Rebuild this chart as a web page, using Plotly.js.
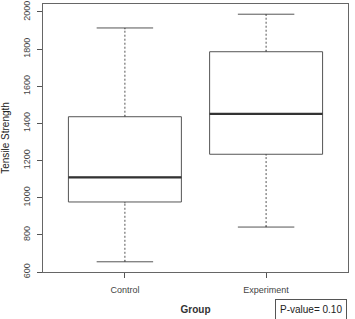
<!DOCTYPE html>
<html>
<head>
<meta charset="utf-8">
<script src="https://cdn.plot.ly/plotly-3.0.1.min.js"></script>
<style>html,body{margin:0;padding:0;background:#fff;}#chart{width:355px;height:319px;}</style>
</head>
<body>
<div id="chart"></div>
<script>
// Data
var groups = ['Control', 'Experiment'];
var positions = [1, 2];
var lowerWhisker = [655, 842];
var q1 = [977, 1234];
var median = [1110, 1451];
var q3 = [1436, 1786];
var upperWhisker = [1914, 1988];
var yTicks = [600, 800, 1000, 1200, 1400, 1600, 1800, 2000];
var pValueText = 'P-value= 0.10';

var lineCol = '#555555';
var halfW = 0.4;
var yRange = [600, 2043];
var eps = (yRange[1] - yRange[0]) * 0.005;

var traces = [];
groups.forEach(function (g, i) {
  traces.push({
    type: 'box',
    name: g,
    x: [positions[i]],
    q1: [q1[i]], median: [median[i]], q3: [q3[i]],
    lowerfence: [lowerWhisker[i]], upperfence: [upperWhisker[i]],
    width: 2 * halfW,
    whiskerwidth: 0.5,
    line: {color: lineCol, width: 1},
    fillcolor: 'rgba(255,255,255,0)',
    boxpoints: false,
    hoverinfo: 'skip',
    showlegend: false
  });
});
groups.forEach(function (g, i) {
  var c = positions[i];
  [[q3[i] + eps, upperWhisker[i] - eps], [lowerWhisker[i] + eps, q1[i] - eps]].forEach(function (seg) {
    traces.push({type: 'scatter', mode: 'lines', x: [c, c], y: seg,
      line: {color: '#ffffff', width: 3}, hoverinfo: 'skip', showlegend: false});
  });
  [[q3[i], upperWhisker[i]], [lowerWhisker[i], q1[i]]].forEach(function (seg) {
    traces.push({type: 'scatter', mode: 'lines', x: [c, c], y: seg,
      line: {color: lineCol, width: 1, dash: '2px,2px'}, hoverinfo: 'skip', showlegend: false});
  });
  traces.push({type: 'scatter', mode: 'lines', x: [c - halfW, c + halfW], y: [median[i], median[i]],
    line: {color: '#333333', width: 2.2}, hoverinfo: 'skip', showlegend: false});
});

var tickFont = {family: 'Liberation Sans, Arial, sans-serif', size: 9, color: '#444'};

var layout = {
  width: 355, height: 319,
  margin: {l: 43, r: 7, t: 4, b: 47, pad: 0},
  paper_bgcolor: '#fff', plot_bgcolor: '#fff',
  showlegend: false,
  xaxis: {
    range: [0.42, 2.58],
    tickmode: 'array', tickvals: positions, ticktext: groups,
    ticks: 'outside', ticklen: 5, tickcolor: lineCol, tickwidth: 1,
    showline: true, mirror: true, linecolor: '#666', linewidth: 1,
    showgrid: false, zeroline: false,
    tickfont: tickFont,
    ticklabelstandoff: 4,
    title: {text: '<b>Group</b>', font: {family: 'Liberation Sans, Arial, sans-serif', size: 10, color: '#333'}, standoff: 12}
  },
  yaxis: {
    range: yRange,
    tickmode: 'array', tickvals: yTicks, ticktext: yTicks.map(String),
    tickangle: -90,
    ticks: 'outside', ticklen: 5, tickcolor: lineCol, tickwidth: 1,
    showline: true, mirror: true, linecolor: '#666', linewidth: 1,
    showgrid: false, zeroline: false,
    tickfont: tickFont,
    ticklabelstandoff: 3,
    title: {text: 'Tensile Strength', font: {family: 'Liberation Sans, Arial, sans-serif', size: 10, color: '#222'}, standoff: 11}
  },
  annotations: [{
    xref: 'paper', yref: 'paper',
    x: (274.5 - 43) / 305, y: -27 / 268,
    xanchor: 'left', yanchor: 'top',
    text: pValueText, showarrow: false,
    font: {family: 'Liberation Sans, Arial, sans-serif', size: 10, color: '#222'},
    bordercolor: '#555', borderwidth: 1, borderpad: 4, bgcolor: '#fff'
  }]
};

Plotly.newPlot('chart', traces, layout, {displayModeBar: false, staticPlot: true});
</script>
</body>
</html>
